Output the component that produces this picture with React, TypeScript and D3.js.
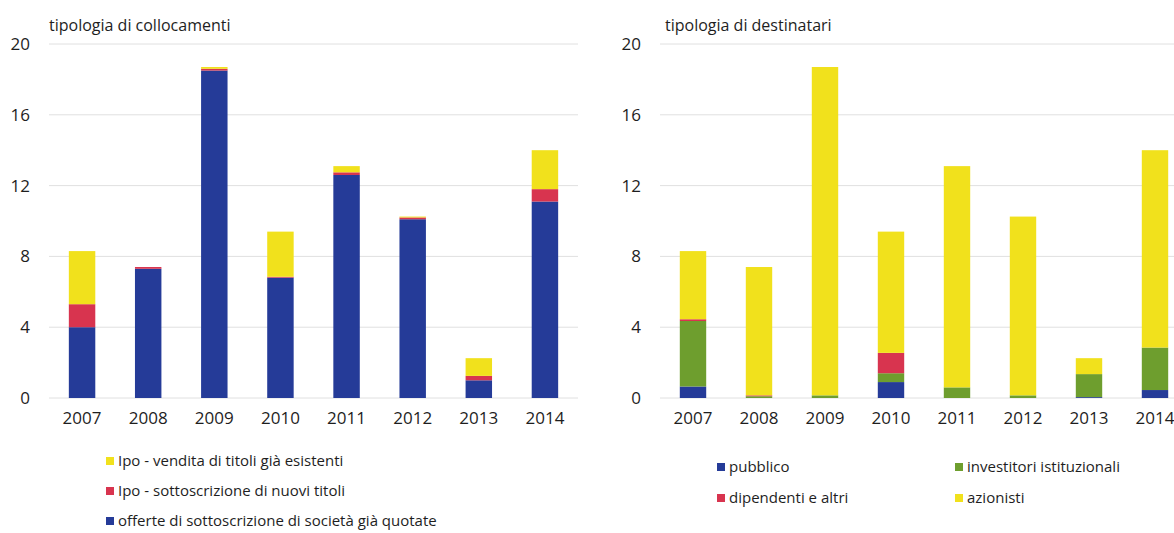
import React from "react";
import * as d3 from "d3";

const years = ["2007", "2008", "2009", "2010", "2011", "2012", "2013", "2014"];
const yTicks = [0, 4, 8, 12, 16, 20];

// left panel: tipologia di collocamenti
const offerteQuotate = [4.0, 7.3, 18.5, 6.8, 12.6, 10.1, 1.0, 11.1];
const ipoSottoscrizione = [1.3, 0.1, 0.1, 0.05, 0.15, 0.1, 0.25, 0.7];
const ipoVendita = [3.0, 0.0, 0.1, 2.55, 0.35, 0.05, 1.0, 2.2];

// right panel: tipologia di destinatari
const pubblico = [0.65, 0.0, 0.0, 0.9, 0.0, 0.0, 0.05, 0.45];
const investitori = [3.7, 0.1, 0.15, 0.5, 0.6, 0.15, 1.3, 2.4];
const dipendenti = [0.1, 0.05, 0.0, 1.15, 0.0, 0.0, 0.0, 0.0];
const azionisti = [3.85, 7.25, 18.55, 6.85, 12.5, 10.1, 0.9, 11.15];

const BLUE = "#253b98";
const RED = "#d8344f";
const YELLOW = "#f1e11c";
const GREEN = "#6e9e2e";
const GRID = "#e0e0e0";
const TEXT = "#1e1e1e";
const FONT = "'Open Sans', 'Noto Sans', sans-serif";

type Series = { key: string; values: number[]; color: string };

const leftSeries: Series[] = [
  { key: "offerte", values: offerteQuotate, color: BLUE },
  { key: "ipoSott", values: ipoSottoscrizione, color: RED },
  { key: "ipoVend", values: ipoVendita, color: YELLOW },
];
const rightSeries: Series[] = [
  { key: "pubblico", values: pubblico, color: BLUE },
  { key: "investitori", values: investitori, color: GREEN },
  { key: "dipendenti", values: dipendenti, color: RED },
  { key: "azionisti", values: azionisti, color: YELLOW },
];

const leftLegend = [
  { label: "Ipo - vendita di titoli già esistenti", color: YELLOW },
  { label: "Ipo - sottoscrizione di nuovi titoli", color: RED },
  { label: "offerte di sottoscrizione di società già quotate", color: BLUE },
];
const rightLegend = [
  { label: "pubblico", color: BLUE, col: 0, row: 0 },
  { label: "investitori istituzionali", color: GREEN, col: 1, row: 0 },
  { label: "dipendenti e altri", color: RED, col: 0, row: 1 },
  { label: "azionisti", color: YELLOW, col: 1, row: 1 },
];

const y = d3.scaleLinear().domain([0, 20]).range([398, 44]);

function Panel({
  series,
  x0,
  x1,
  gridEnd,
  title,
  titleX,
}: {
  series: Series[];
  x0: number;
  x1: number;
  gridEnd: number;
  title: string;
  titleX: number;
}) {
  const x = d3
    .scaleBand<string>()
    .domain(years)
    .range([x0, x1])
    .paddingInner(0.6)
    .paddingOuter(0.3);
  const rows = years.map((yr, i) => {
    const o: any = { year: yr };
    series.forEach((s) => (o[s.key] = s.values[i]));
    return o;
  });
  const stacked = d3.stack<any>().keys(series.map((s) => s.key))(rows);
  return (
    <g>
      <text x={titleX} y={31} fontSize={16} fill={TEXT} fontFamily={FONT}>
        {title}
      </text>
      {yTicks.map((t) => (
        <g key={t}>
          <line x1={x0} x2={gridEnd} y1={y(t)} y2={y(t)} stroke={GRID} strokeWidth={1} />
          <text
            x={x0 - 19}
            y={y(t) + 6}
            textAnchor="end"
            fontSize={17}
            fill={TEXT}
            fontFamily={FONT}
          >
            {t}
          </text>
        </g>
      ))}
      {stacked.map((layer, li) => (
        <g key={layer.key} fill={series[li].color}>
          {layer.map((d, i) =>
            d[1] - d[0] > 0 ? (
              <rect
                key={i}
                x={x(years[i])}
                width={x.bandwidth()}
                y={y(d[1])}
                height={y(d[0]) - y(d[1])}
              />
            ) : null
          )}
        </g>
      ))}
      {years.map((yr) => (
        <text
          key={yr}
          x={(x(yr) as number) + x.bandwidth() / 2}
          y={424}
          textAnchor="middle"
          fontSize={17}
          fill={TEXT}
          fontFamily={FONT}
        >
          {yr}
        </text>
      ))}
    </g>
  );
}

export default function App() {
  return (
    <svg
      width={1174}
      height={533}
      style={{ position: "absolute", left: 0, top: 0, background: "#fff" }}
    >
      <rect x={0} y={0} width={1174} height={533} fill="#fff" />
      <Panel
        series={leftSeries}
        x0={49}
        x1={578}
        gridEnd={578}
        title="tipologia di collocamenti"
        titleX={49}
      />
      <Panel
        series={rightSeries}
        x0={660}
        x1={1188}
        gridEnd={1174}
        title="tipologia di destinatari"
        titleX={665}
      />
      {leftLegend.map((l, i) => (
        <g key={l.label} transform={`translate(106, ${461 + i * 30})`}>
          <rect x={0} y={-4} width={8} height={8} fill={l.color} />
          <text x={12} y={5} fontSize={15} fill={TEXT} fontFamily={FONT}>
            {l.label}
          </text>
        </g>
      ))}
      {rightLegend.map((l) => (
        <g
          key={l.label}
          transform={`translate(${717 + l.col * 238}, ${467 + l.row * 31})`}
        >
          <rect x={0} y={-4} width={8} height={8} fill={l.color} />
          <text x={12} y={5} fontSize={15} fill={TEXT} fontFamily={FONT}>
            {l.label}
          </text>
        </g>
      ))}
    </svg>
  );
}
